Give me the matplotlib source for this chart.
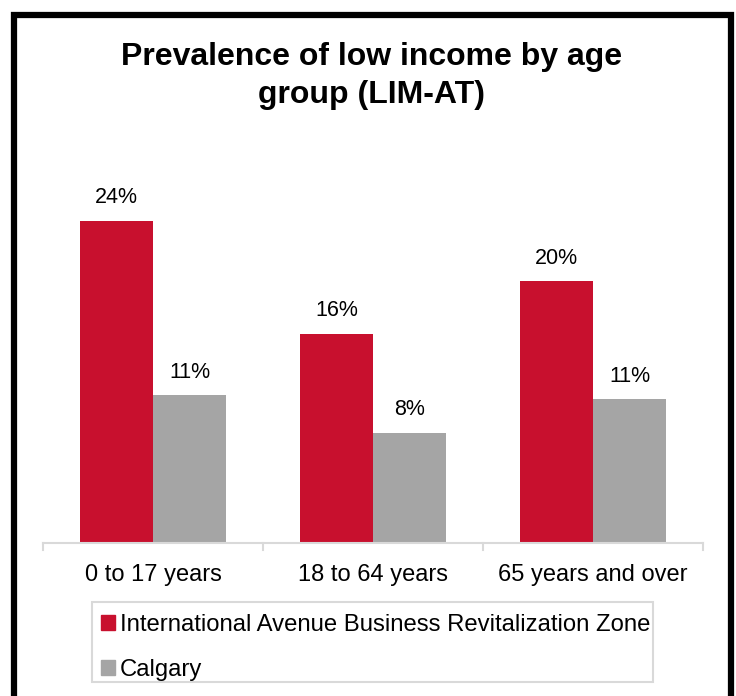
import matplotlib
matplotlib.use('Agg')
import matplotlib.pyplot as plt
import numpy as np
from matplotlib.lines import Line2D
from matplotlib.patches import Patch, Rectangle

# 数据
categories = ['0 to 17 years', '18 to 64 years', '65 years and over']
zone_values = [24.0, 15.6, 19.5]
calgary_values = [11.0, 8.2, 10.7]
zone_labels = ['24%', '16%', '20%']
calgary_labels = ['11%', '8%', '11%']
series_names = ['International Avenue Business Revitalization Zone', 'Calgary']

red = '#C8102E'
gray = '#A5A5A5'
light = '#D9D9D9'

plt.rcParams['font.family'] = ['Liberation Sans', 'DejaVu Sans']

W, H = 736, 696
fig = plt.figure(figsize=(W / 100, H / 100), dpi=100)

# 坐标区位置（像素换算）
left, right, base = 43, 703, 543
px_per_unit = 13.42
ymax = 27
top = base - ymax * px_per_unit
ax = fig.add_axes([left / W, (H - base) / H, (right - left) / W, (base - top) / H])

x = np.arange(len(categories))
bw = 0.332
b1 = ax.bar(x - bw / 2, zone_values, bw, color=red)
b2 = ax.bar(x + bw / 2, calgary_values, bw, color=gray)

for rects, labs in [(b1, zone_labels), (b2, calgary_labels)]:
    for r, lab in zip(rects, labs):
        ax.annotate(lab, (r.get_x() + r.get_width() / 2, r.get_height()),
                    xytext=(0, 9), textcoords='offset points',
                    ha='center', va='bottom', fontsize=15.5)

ax.set_xlim(-0.5, len(categories) - 0.5)
ax.set_ylim(0, ymax)
for s in ['top', 'right', 'left']:
    ax.spines[s].set_visible(False)
ax.spines['bottom'].set_color(light)
ax.spines['bottom'].set_linewidth(1.5)
ax.set_yticks([])
ax.set_xticks(x)
ax.set_xticklabels(categories, fontsize=17)
ax.tick_params(axis='x', length=0, pad=15)
# 分组边界刻度
for b in np.arange(-0.5, len(categories), 1.0):
    ax.plot([b, b], [0, -7 / px_per_unit], color=light, lw=1.5, clip_on=False)

# 标题
fig.text(372 / W, 1 - 76 / H, 'Prevalence of low income by age\ngroup (LIM-AT)',
         ha='center', va='center', fontsize=23, fontweight='bold', linespacing=1.33)

# 图例（外框单独画）
handles = [Patch(color=red), Patch(color=gray)]
leg = fig.legend(handles, series_names, loc='upper left',
                 bbox_to_anchor=(101 / W, 1 - 614 / H), fontsize=17.2,
                 frameon=False, handlelength=0.6, handleheight=0.6,
                 handletextpad=0.2, labelspacing=0.95, borderpad=0,
                 borderaxespad=0)
fig.add_artist(Rectangle((92 / W, 1 - 682 / H), (653 - 92) / W, (682 - 602) / H,
                         transform=fig.transFigure, fill=False,
                         edgecolor=light, lw=1.5))

# 外框
fx = [14 / W, 14 / W, 730.5 / W, 730.5 / W]
fy = [-0.05, 1 - 15 / H, 1 - 15 / H, -0.05]
fig.add_artist(Line2D(fx, fy, color='black', lw=4.5, transform=fig.transFigure,
                      solid_joinstyle='miter'))

fig.savefig('out.png', dpi=100)
